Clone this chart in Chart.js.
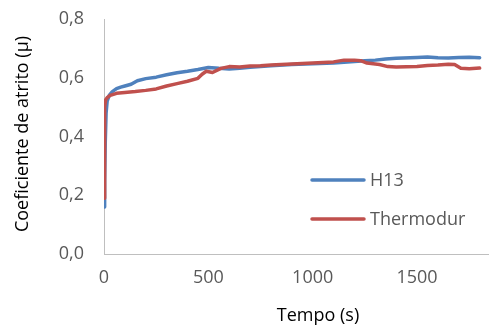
<!DOCTYPE html>
<html>
<head>
<meta charset="utf-8">
<script src="https://cdn.jsdelivr.net/npm/chart.js@4.4.1/dist/chart.umd.min.js"></script>
<style>
  html, body { margin: 0; padding: 0; background: #ffffff; }
  #wrap { width: 491px; height: 334px; position: relative; }
</style>
</head>
<body>
<div id="wrap"><canvas id="c" width="491" height="334"></canvas></div>
<script>
// ---- data ----
const seriesNames = ['H13', 'Thermodur'];
const timeH13 = [0, 3, 6, 10, 15, 25, 40, 60, 80, 100, 130, 160, 200, 250, 300, 350, 400, 450, 500, 550, 600, 650, 700, 800, 900, 1000, 1100, 1200, 1250, 1300, 1350, 1400, 1500, 1550, 1600, 1650, 1700, 1750, 1800];
const muH13 = [0.16, 0.25, 0.38, 0.48, 0.52, 0.54, 0.553, 0.563, 0.568, 0.572, 0.578, 0.59, 0.597, 0.602, 0.61, 0.617, 0.622, 0.628, 0.635, 0.632, 0.630, 0.632, 0.636, 0.641, 0.645, 0.648, 0.650, 0.655, 0.658, 0.660, 0.664, 0.666, 0.669, 0.671, 0.668, 0.667, 0.669, 0.670, 0.668];
const timeThermodur = [0, 2, 4, 8, 15, 30, 60, 100, 150, 200, 250, 300, 350, 400, 450, 470, 490, 520, 560, 600, 650, 700, 750, 800, 900, 1000, 1100, 1150, 1200, 1230, 1260, 1320, 1360, 1400, 1500, 1550, 1600, 1650, 1680, 1710, 1750, 1800];
const muThermodur = [0.19, 0.35, 0.50, 0.525, 0.532, 0.54, 0.547, 0.55, 0.553, 0.557, 0.562, 0.572, 0.58, 0.588, 0.598, 0.612, 0.622, 0.618, 0.632, 0.638, 0.637, 0.640, 0.641, 0.643, 0.647, 0.650, 0.654, 0.660, 0.660, 0.658, 0.650, 0.645, 0.638, 0.637, 0.638, 0.642, 0.643, 0.646, 0.645, 0.632, 0.631, 0.633];
const xTickValues = [0, 500, 1000, 1500];
const yTickValues = [0, 0.2, 0.4, 0.6, 0.8];
const xTitle = 'Tempo (s)';
const yTitle = 'Coeficiente de atrito (µ)';

// ---- styling ----
const COLORS = ['#4F81BD', '#C0504D'];
const FONT = '"Open Sans", "Liberation Sans", sans-serif';
const TICK_COLOR = '#595959';
const AXIS_COLOR = '#BFBFBF';

function toPoints(xs, ys) { return xs.map((x, i) => ({ x: x, y: ys[i] })); }
function fmtComma(v) { return Number(v).toFixed(1).replace('.', ','); }

const titlesAndLegend = {
  id: 'titlesAndLegend',
  afterDraw(chart) {
    const ctx = chart.ctx;
    ctx.save();
    // x title
    ctx.font = '18px ' + FONT;
    ctx.fillStyle = '#000000';
    ctx.textAlign = 'center';
    ctx.textBaseline = 'alphabetic';
    ctx.fillText(xTitle, 318, 321);
    // y title
    ctx.save();
    ctx.translate(28, 134);
    ctx.rotate(-Math.PI / 2);
    ctx.fillText(yTitle, 0, 0);
    ctx.restore();
    // legend
    const legendY = [180, 219];
    chart.data.datasets.forEach((ds, i) => {
      const y = legendY[i];
      ctx.strokeStyle = ds.borderColor;
      ctx.lineWidth = 3.5;
      ctx.lineCap = 'round';
      ctx.beginPath();
      ctx.moveTo(312, y);
      ctx.lineTo(364, y);
      ctx.stroke();
      ctx.fillStyle = TICK_COLOR;
      ctx.textAlign = 'left';
      ctx.textBaseline = 'middle';
      ctx.font = '18px ' + FONT;
      ctx.fillText(ds.label, 370, y + 1);
    });
    ctx.restore();
  }
};

new Chart(document.getElementById('c'), {
  type: 'line',
  data: {
    datasets: [
      { label: seriesNames[0], data: toPoints(timeH13, muH13), borderColor: COLORS[0], backgroundColor: COLORS[0], borderWidth: 3.5, pointRadius: 0, tension: 0, order: 1, borderJoinStyle: 'round', borderCapStyle: 'round' },
      { label: seriesNames[1], data: toPoints(timeThermodur, muThermodur), borderColor: COLORS[1], backgroundColor: COLORS[1], borderWidth: 3.5, pointRadius: 0, tension: 0, order: 0, borderJoinStyle: 'round', borderCapStyle: 'round' }
    ]
  },
  options: {
    responsive: false,
    animation: false,
    devicePixelRatio: 1,
    layout: { padding: { top: 19, right: 3, left: 0, bottom: 0 } },
    plugins: { legend: { display: false }, tooltip: { enabled: false }, title: { display: false } },
    scales: {
      x: {
        type: 'linear',
        min: 0,
        max: 1840,
        afterFit(scale) { scale.height = 80; scale.paddingLeft = 0; scale.paddingRight = 0; },
        afterBuildTicks(scale) { scale.ticks = xTickValues.map(v => ({ value: v })); },
        grid: { display: false, drawTicks: false },
        border: { display: true, color: AXIS_COLOR, width: 1 },
        ticks: { color: TICK_COLOR, font: { family: FONT, size: 18 }, padding: 13, maxRotation: 0, autoSkip: false, callback: (v) => String(v) }
      },
      y: {
        type: 'linear',
        min: 0,
        max: 0.8,
        afterFit(scale) { scale.width = 104; scale.paddingTop = 0; scale.paddingBottom = 0; },
        afterBuildTicks(scale) { scale.ticks = yTickValues.map(v => ({ value: v })); },
        grid: { display: false, drawTicks: false },
        border: { display: true, color: AXIS_COLOR, width: 1 },
        ticks: { color: TICK_COLOR, font: { family: FONT, size: 18 }, padding: 20, callback: (v) => fmtComma(v) }
      }
    }
  },
  plugins: [titlesAndLegend]
});
</script>
</body>
</html>
